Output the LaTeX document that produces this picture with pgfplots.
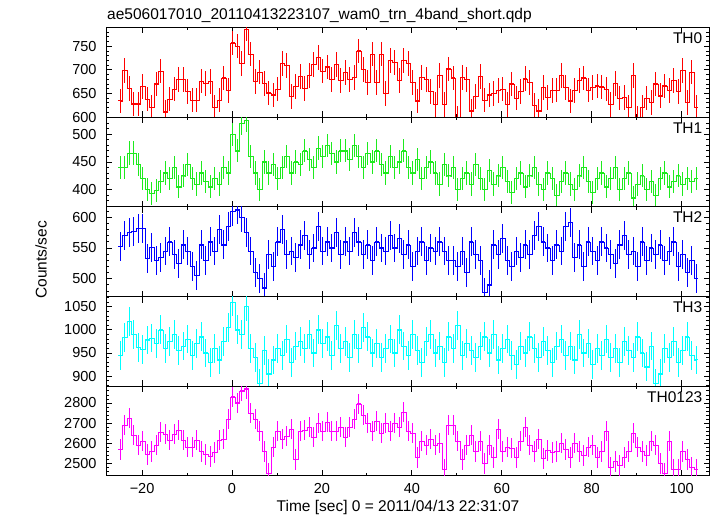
\documentclass[border=0pt]{standalone}
\usepackage{pgfplots}
\pgfplotsset{compat=1.18}
\usepackage{pgfplotstable}
\usepackage{fontspec}
\setmainfont{Liberation Sans}
\definecolor{cA}{RGB}{255,0,0}
\definecolor{cB}{RGB}{30,235,30}
\definecolor{cC}{RGB}{0,0,255}
\definecolor{cD}{RGB}{0,255,255}
\definecolor{cE}{RGB}{255,0,255}
\newcommand\ticksize{\fontsize{14.5pt}{17pt}\selectfont}
\newcommand\labsize{\fontsize{15.5pt}{18pt}\selectfont}
\pgfplotstableread{
t a b c d e
-24.8 634 440 553 944 2570
-23.8 699 440 570 983 2690
-22.8 660 466 575 1018 2725
-21.8 628 466 577 990 2640
-20.8 628 445 582 962 2590
-19.8 665 420 582 958 2610
-18.8 638 400 533 978 2545
-17.8 621 393 551 982 2560
-16.8 670 398 530 970 2590
-15.8 697 415 535 1000 2655
-14.8 611 430 545 960 2645
-13.8 638 420 560 975 2615
-12.8 659 440 540 990 2645
-11.8 680 405 525 955 2665
-10.8 680 425 555 965 2615
-9.8 654 445 545 980 2580
-8.8 636 420 520 945 2580
-7.8 636 410 505 970 2615
-6.8 676 430 555 985 2560
-5.8 671 415 530 950 2545
-4.8 675 405 560 930 2535
-3.8 621 420 545 960 2555
-2.8 636 410 580 935 2615
-1.8 683 440 555 975 2620
-0.8 656 430 585 1005 2720
0.2 757 500 610 1060 2830
1.2 750 470 612 1000 2800
2.2 713 520 600 990 2860
3.2 786 525 575 1050 2870
4.2 733 460 545 960 2750
5.2 675 430 510 940 2720
6.2 695 400 500 885 2660
7.2 671 450 485 955 2560
8.2 651 430 540 905 2450
9.2 647 445 520 935 2580
10.2 659 420 560 960 2660
11.2 713 440 580 945 2620
12.2 709 460 540 980 2635
13.2 644 430 545 930 2670
14.2 665 450 535 965 2520
15.2 686 445 555 975 2660
16.2 661 470 570 960 2665
17.2 688 455 540 990 2680
18.2 711 440 550 950 2630
19.2 726 475 585 1000 2700
20.2 697 460 545 970 2660
21.2 706 480 560 985 2705
22.2 679 465 550 945 2660
23.2 711 450 575 1010 2660
24.2 677 470 540 960 2680
25.2 694 470 560 975 2630
26.2 679 455 545 940 2680
27.2 684 480 575 990 2720
28.2 740 460 560 960 2795
29.2 701 440 540 1005 2740
30.2 673 465 555 985 2700
31.2 733 450 530 950 2660
32.2 673 470 560 970 2710
33.2 733 445 550 940 2650
34.2 650 430 545 960 2700
35.2 720 460 570 980 2660
36.2 716 440 550 950 2700
37.2 677 450 565 1000 2680
38.2 720 470 540 965 2755
39.2 713 440 555 945 2660
40.2 673 430 520 990 2650
41.2 634 455 545 955 2530
42.2 684 420 560 930 2610
43.2 680 440 530 975 2590
44.2 654 450 550 990 2620
45.2 627 430 545 950 2590
46.2 688 410 560 965 2600
47.2 627 445 545 930 2470
48.2 702 425 530 985 2690
49.2 683 440 530 960 2690
50.2 598 400 520 1010 2610
51.2 684 420 545 945 2520
52.2 679 430 510 970 2590
53.2 613 410 560 955 2640
54.2 643 445 540 940 2560
55.2 686 420 530 965 2610
56.2 636 400 478 985 2500
57.2 647 435 490 950 2590
58.2 650 410 555 990 2530
59.2 656 425 540 935 2670
60.2 659 440 565 960 2560
61.2 627 415 530 980 2580
62.2 670 395 520 945 2575
63.2 640 420 545 925 2530
64.2 654 430 535 965 2610
65.2 681 405 555 950 2680
66.2 673 425 540 985 2590
67.2 624 440 570 960 2560
68.2 613 410 585 940 2620
69.2 663 400 560 975 2525
70.2 641 430 550 955 2565
71.2 656 420 530 930 2555
72.2 657 390 555 965 2560
73.2 688 415 545 980 2600
74.2 663 430 585 945 2570
75.2 634 410 592 965 2530
76.2 656 400 535 935 2600
77.2 677 425 555 990 2560
78.2 683 440 520 950 2540
79.2 657 415 560 970 2580
80.2 663 395 545 925 2590
81.2 666 420 530 960 2530
82.2 664 430 560 945 2560
83.2 659 405 550 980 2660
84.2 627 420 540 940 2480
85.2 671 440 525 960 2510
86.2 640 400 555 930 2490
87.2 641 420 570 975 2530
88.2 621 430 540 955 2560
89.2 688 385 545 940 2650
90.2 598 410 520 985 2580
91.2 621 425 560 950 2560
92.2 640 400 530 920 2540
93.2 631 415 550 965 2610
94.2 670 390 540 885 2590
95.2 645 420 555 905 2500
96.2 666 430 530 960 2450
97.2 656 405 545 940 2610
98.2 677 415 560 975 2470
99.2 654 425 520 930 2470
100.2 699 410 540 955 2560
101.2 631 420 510 985 2520
102.2 695 415 530 945 2480
103.2 621 420 500 935 2470
}\lc
\pgfplotsset{
  lcpanel/.style={
    scale only axis, width=603.5pt, height=89.74pt, anchor=south west,
    xmin=-28.02, xmax=106.2,
    xtick={-20,0,20,40,60,80,100}, minor xtick={-10,10,30,50,70,90},
    xticklabels={},
    tick align=inside, major tick length=6pt, minor tick length=3.2pt,
    every tick/.append style={black, line width=0.8pt},
    axis line style={black, line width=1pt},
    tick label style={font=\ticksize},
    yticklabel style={anchor=east, inner sep=0pt, xshift=-9.3pt},
    /pgf/number format/assume math mode=true,
    /pgf/number format/1000 sep={},
  },
}
% #1 colour, #2 column, #3 error
\newcommand\lcplots[3]{%
  \addplot[#1, const plot mark mid, mark=none, line width=0.5pt,
    error bars/.cd, x dir=both, x fixed=0.5, y dir=both, y fixed=#3, error mark=none,
    error bar style={#1, line width=1pt, solid}] table[x=t,y=#2]{\lc};
}
\begin{document}
\begin{tikzpicture}
\useasboundingbox (0,0) rectangle (717pt,516pt);
% TH0
\begin{axis}[lcpanel, at={(106pt,398.96pt)}, ymin=600, ymax=790, ytick={600,650,700,750}, minor ytick={610,620,...,790}]
\lcplots{cA}{a}{26}
\node[anchor=base east, inner sep=0pt, font=\labsize, xshift=-7pt, yshift=-16pt] at (rel axis cs:1,1) {TH0};
\end{axis}
% TH1
\begin{axis}[lcpanel, at={(106pt,309.22pt)}, ymin=369, ymax=531, ytick={400,450,500}, minor ytick={370,380,...,530}]
\lcplots{cB}{b}{21}
\node[anchor=base east, inner sep=0pt, font=\labsize, xshift=-7pt, yshift=-16pt] at (rel axis cs:1,1) {TH1};
\end{axis}
% TH2
\begin{axis}[lcpanel, at={(106pt,219.48pt)}, ymin=471, ymax=617, ytick={500,550,600}, minor ytick={480,490,...,610}]
\lcplots{cC}{c}{23.5}
\node[anchor=base east, inner sep=0pt, font=\labsize, xshift=-7pt, yshift=-16pt] at (rel axis cs:1,1) {TH2};
\end{axis}
% TH3
\begin{axis}[lcpanel, at={(106pt,129.74pt)}, ymin=878, ymax=1072, ytick={900,950,1000,1050}, minor ytick={880,890,...,1070}]
\lcplots{cD}{d}{31}
\node[anchor=base east, inner sep=0pt, font=\labsize, xshift=-7pt, yshift=-16pt] at (rel axis cs:1,1) {TH3};
\end{axis}
% TH0123
\begin{axis}[lcpanel, at={(106pt,40pt)}, ymin=2437, ymax=2883, ytick={2500,2600,2700,2800}, minor ytick={2440,2460,...,2880},
  xticklabels={−20,0,20,40,60,80,100}, xticklabel style={anchor=base, inner sep=0pt, yshift=-18pt}]
\lcplots{cE}{e}{51}
\node[anchor=base east, inner sep=0pt, font=\labsize, xshift=-7pt, yshift=-16pt] at (rel axis cs:1,1) {TH0123};
\end{axis}
\node[anchor=base west, inner sep=0pt, font=\labsize] at (107pt,496pt) {ae506017010\_20110413223107\_wam0\_trn\_4band\_short.qdp};
\node[rotate=90, inner sep=0pt, font=\labsize] at (41pt,256pt) {Counts/sec};
\node[anchor=base, inner sep=0pt, font=\labsize] at (398pt,4.5pt) {Time [sec] 0 = 2011/04/13 22:31:07};
\end{tikzpicture}
\end{document}
